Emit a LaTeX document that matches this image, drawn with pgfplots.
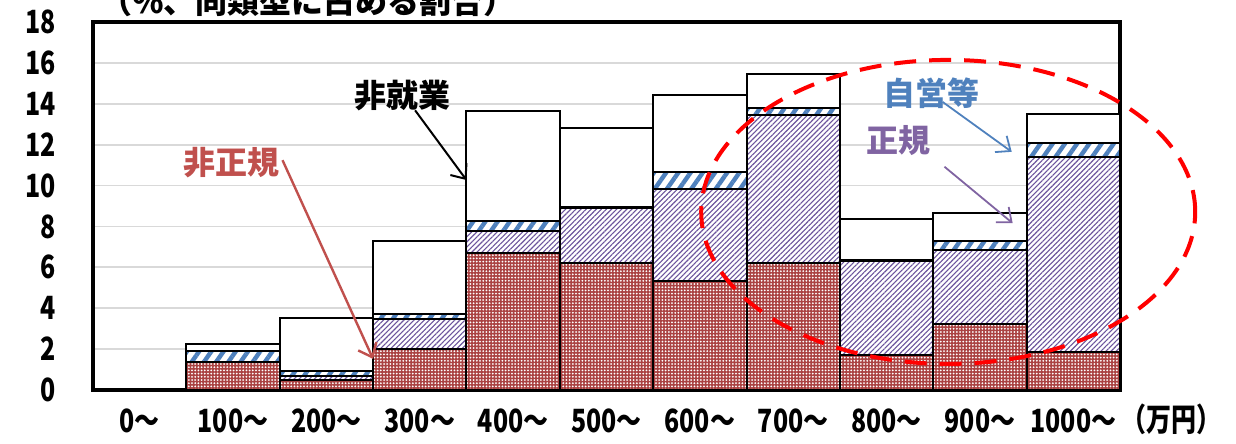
\documentclass[border=0pt]{standalone}
\usepackage{pgfplots}
\pgfplotsset{compat=1.18}
\usepackage{graphicx}
\usepackage{fontspec}
\setmainfont{Noto Sans CJK JP}
\usetikzlibrary{patterns.meta,arrows.meta}

\definecolor{redfill}{RGB}{170,66,66}
\definecolor{purpline}{RGB}{108,84,156}
\definecolor{blueline}{RGB}{79,129,189}
\definecolor{redtxt}{RGB}{192,80,77}
\definecolor{bluetxt}{RGB}{79,129,189}
\definecolor{purptxt}{RGB}{128,100,162}

\newcommand{\nr}[1]{\scalebox{0.78}[1]{#1}}
\newcommand{\lbl}{\bfseries\fontsize{16}{16}\selectfont}

\begin{document}
\begin{tikzpicture}
\clip (-46.5pt,-27pt) rectangle (571.5pt,195pt);
\begin{axis}[
  at={(0,0)}, anchor=south west,
  scale only axis, width=513.5pt, height=184pt,
  ybar stacked, bar width=1,
  xmin=-0.5, xmax=10.5, ymin=0, ymax=18,
  xtick={0,...,10}, ytick={0,2,...,18},
  xticklabels={\nr{0～},\nr{100～},\nr{200～},\nr{300～},\nr{400～},\nr{500～},\nr{600～},\nr{700～},\nr{800～},\nr{900～},\nr{1000～}},
  yticklabels={\nr{0},\nr{2},\nr{4},\nr{6},\nr{8},\nr{10},\nr{12},\nr{14},\nr{16},\nr{18}},
  tick style={draw=none},
  ymajorgrids, grid style={draw=black!15, line width=0.9pt},
  axis line style={line width=2pt},
  ticklabel style={font=\lbl},
  xticklabel style={anchor=base, yshift=-21pt},
  yticklabel style={xshift=-15pt},
  every axis plot/.append style={draw=black, line width=1pt},
  clip=false,
]
% 非正規
\addplot[fill=redfill, postaction={pattern={Dots[distance=1.6pt,radius=0.5pt]}, pattern color=white}] coordinates {
  (0,0) (1,1.38) (2,0.51) (3,1.99) (4,6.71) (5,6.19) (6,5.34) (7,6.20) (8,1.73) (9,3.23) (10,1.86)
};
% 正規
\addplot[fill=white, postaction={pattern={Lines[angle=45,distance=1.8pt,line width=0.55pt]}, pattern color=purpline}] coordinates {
  (0,0) (1,0) (2,0.16) (3,1.50) (4,1.09) (5,2.70) (6,4.47) (7,7.24) (8,4.59) (9,3.62) (10,9.54)
};
% 自営等
\addplot[fill=white, postaction={pattern={Lines[angle=55,distance=5pt,line width=2.2pt]}, pattern color=blueline}] coordinates {
  (0,0) (1,0.51) (2,0.25) (3,0.23) (4,0.48) (5,0.08) (6,0.86) (7,0.33) (8,0.02) (9,0.46) (10,0.69)
};
% 非就業
\addplot[fill=white] coordinates {
  (0,0) (1,0.38) (2,2.62) (3,3.56) (4,5.35) (5,3.85) (6,3.76) (7,1.70) (8,2.03) (9,1.33) (10,1.43)
};

% anchor points for the annotations, drawn after the axis so they sit on top
\coordinate (t1) at (axis cs:2.81,14.41);
\coordinate (a1s) at (axis cs:2.95,13.68);
\coordinate (a1e) at (axis cs:3.50,10.27);
\coordinate (t2) at (axis cs:0.98,11.10);
\coordinate (a2s) at (axis cs:1.53,11.24);
\coordinate (a2e) at (axis cs:2.50,1.52);
\coordinate (t3) at (axis cs:8.48,14.51);
\coordinate (a3s) at (axis cs:8.60,14.09);
\coordinate (a3e) at (axis cs:9.34,11.65);
\coordinate (t4) at (axis cs:8.13,12.22);
\coordinate (a4s) at (axis cs:8.62,10.92);
\coordinate (a4e) at (axis cs:9.35,8.16);
\coordinate (ell) at (axis cs:8.66,8.71);
\coordinate (unit) at (axis cs:11.05,0);

\node[font=\lbl, anchor=west, yshift=10.5pt] at (rel axis cs:0,1) {（\%、同類型に占める割合）};
\end{axis}

\node[font=\lbl] at (t1) {非就業};
\draw[-{Straight Barb[length=6pt,width=10pt]}, line width=1pt] (a1s) -- (a1e);
\node[font=\lbl, text=redtxt] at (t2) {非正規};
\draw[-{Straight Barb[length=6pt,width=10pt]}, line width=1.2pt, draw=redtxt] (a2s) -- (a2e);
\node[font=\lbl, text=bluetxt] at (t3) {自営等};
\draw[-{Straight Barb[length=6pt,width=10pt]}, line width=0.9pt, draw=bluetxt] (a3s) -- (a3e);
\node[font=\lbl, text=purptxt] at (t4) {正規};
\draw[-{Straight Barb[length=6pt,width=10pt]}, line width=0.9pt, draw=purptxt] (a4s) -- (a4e);
\draw[red, line width=2pt, dash pattern=on 11pt off 6.5pt] (ell) ellipse [x radius=123.5pt, y radius=76pt];
\node[font=\lbl, anchor=base, yshift=-21pt] at (unit) {\nr{（万円）}};
\end{tikzpicture}
\end{document}
